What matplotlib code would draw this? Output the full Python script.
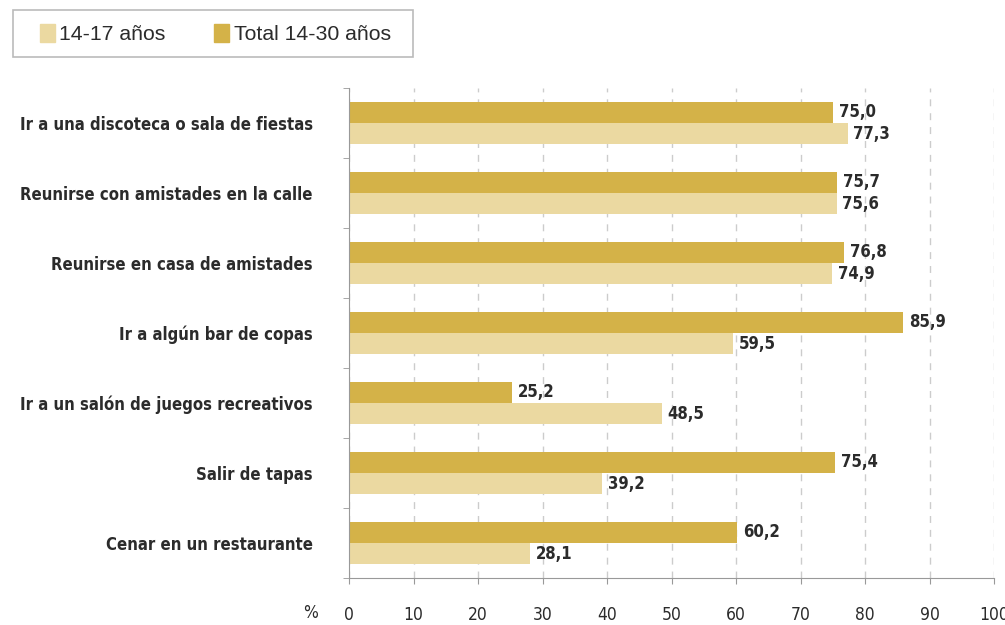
import numpy as np
import matplotlib.pyplot as plt
from matplotlib.patches import Patch, Rectangle

categorias = [
    "Ir a una discoteca o sala de fiestas",
    "Reunirse con amistades en la calle",
    "Reunirse en casa de amistades",
    "Ir a algún bar de copas",
    "Ir a un salón de juegos recreativos",
    "Salir de tapas",
    "Cenar en un restaurante",
]
total_14_30 = [75.0, 75.7, 76.8, 85.9, 25.2, 75.4, 60.2]
edad_14_17 = [77.3, 75.6, 74.9, 59.5, 48.5, 39.2, 28.1]
xticks = [0, 10, 20, 30, 40, 50, 60, 70, 80, 90, 100]

color_total = "#d4b248"
color_joven = "#ebd9a1"
texto = "#2b2b2b"

W, H = 1005, 625
fig = plt.figure(figsize=(W / 100, H / 100), dpi=100)
ax = fig.add_axes([0.3473, 0.0752, 0.6418, 0.7840])

n = len(categorias)
y = np.arange(n)[::-1]  # primera categoria arriba
h = 0.3

ax.barh(y + h / 2, total_14_30, height=h, color=color_total, zorder=2)
ax.barh(y - h / 2, edad_14_17, height=h, color=color_joven, zorder=2)

for yi, v in zip(y, total_14_30):
    ax.text(v + 0.9, yi + h / 2, f"{v:.1f}".replace(".", ","), va="center", ha="left",
            fontsize=12, fontweight="bold", color=texto, fontstretch="condensed")
for yi, v in zip(y, edad_14_17):
    ax.text(v + 0.9, yi - h / 2, f"{v:.1f}".replace(".", ","), va="center", ha="left",
            fontsize=12, fontweight="bold", color=texto, fontstretch="condensed")

ax.set_xlim(0, 100)
ax.set_ylim(-0.5, n - 0.5)
ax.set_xticks(xticks)
ax.set_xticklabels([str(t) for t in xticks], fontsize=12.5, color=texto,
                   fontstretch="condensed")
ax.tick_params(axis="x", length=4, pad=16, color="#999999")
ax.xaxis.grid(True, linestyle=(0, (5, 5)), color="#cccccc", linewidth=1, zorder=0)

ax.set_yticks(y)
ax.set_yticklabels(categorias, fontsize=12, fontweight="bold", color=texto,
                   fontstretch="condensed")
ax.tick_params(axis="y", which="major", length=0, pad=26)
ax.set_yticks(np.arange(-0.5, n, 1), minor=True)
ax.tick_params(axis="y", which="minor", length=4, color="#999999")

for s in ["top", "right"]:
    ax.spines[s].set_visible(False)
for s in ["left", "bottom"]:
    ax.spines[s].set_color("#999999")

fig.text(0.302, 0.005, "%", fontsize=12.5, color=texto, ha="left", va="bottom",
         fontstretch="condensed")

# leyenda: caja dibujada a mano para controlar el tamaño
fig.patches.append(Rectangle((13 / W, 1 - 57 / H), 400 / W, 47 / H, transform=fig.transFigure,
                             facecolor="white", edgecolor="#bbbbbb", linewidth=1.2))
handles = [Patch(color=color_joven), Patch(color=color_total)]
leg = fig.legend(handles, ["14-17 años", "Total 14-30 años"], loc="center left",
                 bbox_to_anchor=(40 / W, 1 - 34 / H), ncol=2, frameon=False,
                 prop={"family": "Liberation Sans", "size": 15.3}, handlelength=0.7,
                 handleheight=0.95, handletextpad=0.2, columnspacing=2.3,
                 borderpad=0, borderaxespad=0)
for t in leg.get_texts():
    t.set_color(texto)

fig.savefig("out.png", dpi=100)
